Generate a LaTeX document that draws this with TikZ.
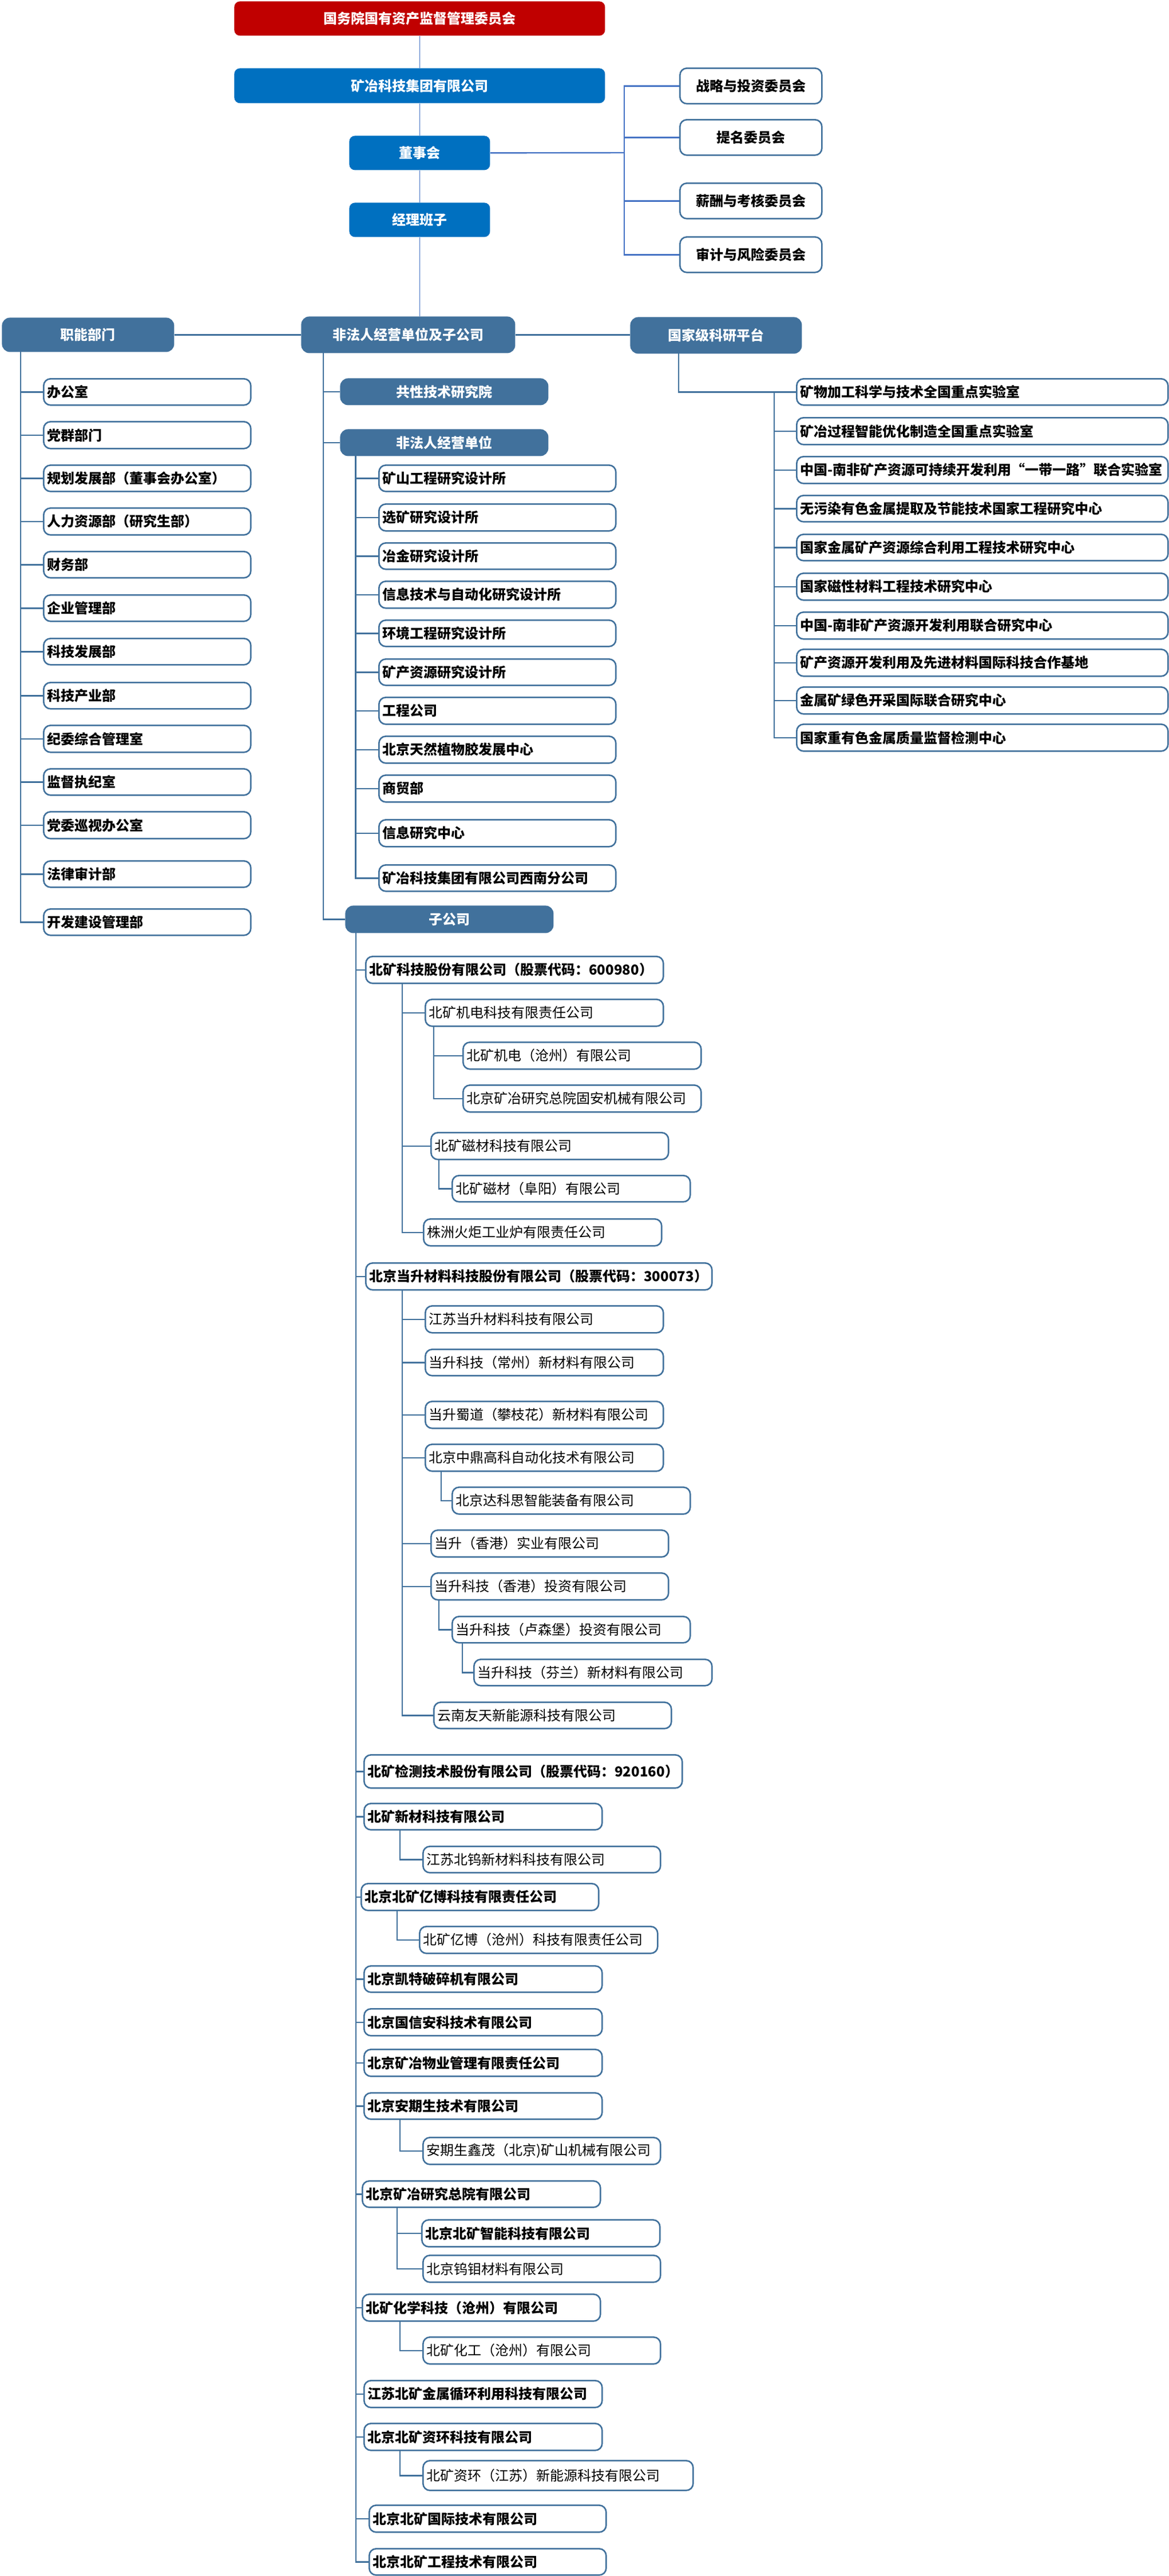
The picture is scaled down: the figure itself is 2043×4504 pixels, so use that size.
\documentclass[tikz,border=0pt]{standalone}
\usepackage{fontspec}
\setmainfont{Noto Sans CJK SC}
\definecolor{myred}{RGB}{192,0,0}
\definecolor{myblue}{RGB}{0,112,192}
\definecolor{hdrc}{RGB}{65,113,156}
\definecolor{bord}{RGB}{65,113,156}
\definecolor{lnc}{RGB}{65,113,156}
\definecolor{tlc}{RGB}{68,114,196}
\newcommand\bx[7]{%
  \pgfmathsetmacro\myW{(#5-#3)/2}%
  \pgfmathsetmacro\myH{(#6-#4)/2}%
  \pgfmathsetmacro\myT{(#5-#3)/2-6}%
  \node[#1, anchor=north west, minimum width=\myW pt, minimum height=\myH pt, text width=\myT pt] (#2) at (#3,#4) {#7};}
\tikzset{
  nbase/.style={rounded corners=6pt, inner xsep=3pt, inner ysep=0pt, font=\fontsize{12}{14}\selectfont},
  redbox/.style={nbase, fill=myred, text=white, font=\fontsize{12}{14}\selectfont\bfseries, align=center, rounded corners=5pt},
  topbox/.style={nbase, fill=myblue, text=white, font=\fontsize{12}{14}\selectfont\bfseries, align=center, rounded corners=5pt},
  hdr/.style={nbase, fill=hdrc, text=white, font=\fontsize{12}{14}\selectfont\bfseries, align=center, rounded corners=7pt},
  com/.style={nbase, draw=bord, line width=1.3pt, fill=white, font=\fontsize{12}{14}\selectfont\bfseries, align=center},
  bitem/.style={nbase, draw=bord, line width=1.3pt, fill=white, font=\fontsize{12}{14}\selectfont\bfseries, align=left},
  ritem/.style={nbase, draw=bord, line width=1.3pt, fill=white, align=left},
  conn/.style={draw=lnc, line width=1.3pt},
  tconn/.style={draw=tlc, line width=0.8pt},
  bconn/.style={draw=tlc, line width=1.2pt},
}
\begin{document}
\begin{tikzpicture}[x=0.5pt,y=-0.5pt]
\fill[white] (0,0) rectangle (2043,4504);
\useasboundingbox (0,0) rectangle (2043,4504);
% top
\bx{redbox}{sasac}{409}{2}{1057}{62}{国务院国有资产监督管理委员会}
\bx{topbox}{grp}{409}{119}{1057}{180}{矿冶科技集团有限公司}
\bx{topbox}{dsh}{610}{237}{856}{297}{董事会}
\bx{topbox}{jl}{610}{354}{856}{414}{经理班子}
\bx{com}{c1}{1187}{118}{1435}{180}{战略与投资委员会}
\bx{com}{c2}{1187}{208}{1435}{270}{提名委员会}
\bx{com}{c3}{1187}{319}{1435}{381}{薪酬与考核委员会}
\bx{com}{c4}{1187}{413}{1435}{475}{审计与风险委员会}
% level 2
\bx{hdr}{zn}{3}{555}{304}{615}{职能部门}
\bx{hdr}{fei}{526}{553}{900}{617}{非法人经营单位及子公司}
\bx{hdr}{gj}{1101}{554}{1401}{618}{国家级科研平台}
% left column
\bx{bitem}{l1}{75}{661}{437}{707}{办公室}
\bx{bitem}{l2}{75}{736}{437}{783}{党群部门}
\bx{bitem}{l3}{75}{812}{437}{858}{规划发展部（董事会办公室）}
\bx{bitem}{l4}{75}{887}{437}{934}{人力资源部（研究生部）}
\bx{bitem}{l5}{75}{963}{437}{1009}{财务部}
\bx{bitem}{l6}{75}{1039}{437}{1085}{企业管理部}
\bx{bitem}{l7}{75}{1115}{437}{1161}{科技发展部}
\bx{bitem}{l8}{75}{1192}{437}{1238}{科技产业部}
\bx{bitem}{l9}{75}{1267}{437}{1314}{纪委综合管理室}
\bx{bitem}{l10}{75}{1343}{437}{1389}{监督执纪室}
\bx{bitem}{l11}{75}{1418}{437}{1465}{党委巡视办公室}
\bx{bitem}{l12}{75}{1504}{437}{1550}{法律审计部}
\bx{bitem}{l13}{75}{1588}{437}{1634}{开发建设管理部}
% middle column
\bx{hdr}{gx}{594}{661}{958}{708}{共性技术研究院}
\bx{hdr}{fr}{594}{750}{958}{797}{非法人经营单位}
\bx{bitem}{m1}{661}{812}{1075}{858}{矿山工程研究设计所}
\bx{bitem}{m2}{661}{880}{1075}{927}{选矿研究设计所}
\bx{bitem}{m3}{661}{948}{1075}{994}{冶金研究设计所}
\bx{bitem}{m4}{661}{1015}{1075}{1062}{信息技术与自动化研究设计所}
\bx{bitem}{m5}{661}{1083}{1075}{1129}{环境工程研究设计所}
\bx{bitem}{m6}{661}{1151}{1075}{1197}{矿产资源研究设计所}
\bx{bitem}{m7}{661}{1218}{1075}{1265}{工程公司}
\bx{bitem}{m8}{661}{1286}{1075}{1333}{北京天然植物胶发展中心}
\bx{bitem}{m9}{661}{1354}{1075}{1401}{商贸部}
\bx{bitem}{m10}{661}{1432}{1075}{1479}{信息研究中心}
\bx{bitem}{m11}{661}{1511}{1075}{1557}{矿冶科技集团有限公司西南分公司}
\bx{hdr}{zgs}{603}{1583}{967}{1631}{子公司}
% right column
\bx{bitem}{r1}{1391}{661}{2040}{707}{矿物加工科学与技术全国重点实验室}
\bx{bitem}{r2}{1391}{729}{2040}{776}{矿冶过程智能优化制造全国重点实验室}
\bx{bitem}{r3}{1391}{797}{2040}{844}{中国-南非矿产资源可持续开发利用“一带一路”联合实验室}
\bx{bitem}{r4}{1391}{865}{2040}{911}{无污染有色金属提取及节能技术国家工程研究中心}
\bx{bitem}{r5}{1391}{933}{2040}{979}{国家金属矿产资源综合利用工程技术研究中心}
\bx{bitem}{r6}{1391}{1001}{2040}{1048}{国家磁性材料工程技术研究中心}
\bx{bitem}{r7}{1391}{1069}{2040}{1116}{中国-南非矿产资源开发利用联合研究中心}
\bx{bitem}{r8}{1391}{1134}{2040}{1181}{矿产资源开发利用及先进材料国际科技合作基地}
\bx{bitem}{r9}{1391}{1200}{2040}{1247}{金属矿绿色开采国际联合研究中心}
\bx{bitem}{r10}{1391}{1265}{2040}{1312}{国家重有色金属质量监督检测中心}
% subsidiaries
\bx{bitem}{s1}{638}{1671}{1158}{1718}{北矿科技股份有限公司（股票代码：600980）}
\bx{ritem}{s1a}{742}{1746}{1158}{1793}{北矿机电科技有限责任公司}
\bx{ritem}{s1a1}{808}{1821}{1224}{1868}{北矿机电（沧州）有限公司}
\bx{ritem}{s1a2}{808}{1896}{1224}{1943}{北京矿冶研究总院固安机械有限公司}
\bx{ritem}{s1b}{752}{1979}{1167}{2026}{北矿磁材科技有限公司}
\bx{ritem}{s1b1}{789}{2054}{1205}{2100}{北矿磁材（阜阳）有限公司}
\bx{ritem}{s1c}{739}{2130}{1155}{2177}{株洲火炬工业炉有限责任公司}
\bx{bitem}{s2}{638}{2207}{1243}{2254}{北京当升材料科技股份有限公司（股票代码：300073）}
\bx{ritem}{s2a}{742}{2282}{1158}{2329}{江苏当升材料科技有限公司}
\bx{ritem}{s2b}{742}{2358}{1158}{2404}{当升科技（常州）新材料有限公司}
\bx{ritem}{s2c}{742}{2449}{1158}{2496}{当升蜀道（攀枝花）新材料有限公司}
\bx{ritem}{s2d}{742}{2524}{1158}{2571}{北京中鼎高科自动化技术有限公司}
\bx{ritem}{s2d1}{789}{2599}{1205}{2646}{北京达科思智能装备有限公司}
\bx{ritem}{s2e}{752}{2674}{1167}{2721}{当升（香港）实业有限公司}
\bx{ritem}{s2f}{752}{2749}{1167}{2796}{当升科技（香港）投资有限公司}
\bx{ritem}{s2f1}{789}{2825}{1205}{2871}{当升科技（卢森堡）投资有限公司}
\bx{ritem}{s2f1a}{827}{2900}{1243}{2946}{当升科技（芬兰）新材料有限公司}
\bx{ritem}{s2g}{757}{2975}{1172}{3021}{云南友天新能源科技有限公司}
\bx{bitem}{s3}{635}{3067}{1191}{3125}{北矿检测技术股份有限公司（股票代码：920160）}
\bx{bitem}{s4}{635}{3152}{1051}{3198}{北矿新材科技有限公司}
\bx{ritem}{s4a}{738}{3227}{1153}{3273}{江苏北钨新材料科技有限公司}
\bx{bitem}{s5}{630}{3292}{1045}{3339}{北京北矿亿博科技有限责任公司}
\bx{ritem}{s5a}{732}{3367}{1148}{3414}{北矿亿博（沧州）科技有限责任公司}
\bx{bitem}{s6}{635}{3436}{1051}{3482}{北京凯特破碎机有限公司}
\bx{bitem}{s7}{635}{3511}{1051}{3558}{北京国信安科技术有限公司}
\bx{bitem}{s8}{635}{3582}{1051}{3629}{北京矿冶物业管理有限责任公司}
\bx{bitem}{s9}{635}{3658}{1051}{3704}{北京安期生技术有限公司}
\bx{ritem}{s9a}{738}{3736}{1153}{3783}{安期生鑫茂（北京)矿山机械有限公司}
\bx{bitem}{s10}{632}{3812}{1048}{3858}{北京矿冶研究总院有限公司}
\bx{bitem}{s10a}{736}{3880}{1152}{3927}{北京北矿智能科技有限公司}
\bx{ritem}{s10b}{738}{3942}{1153}{3989}{北京钨钼材料有限公司}
\bx{bitem}{s11}{632}{4010}{1048}{4057}{北矿化学科技（沧州）有限公司}
\bx{ritem}{s11a}{738}{4085}{1153}{4132}{北矿化工（沧州）有限公司}
\bx{bitem}{s12}{635}{4161}{1051}{4208}{江苏北矿金属循环利用科技有限公司}
\bx{bitem}{s13}{635}{4236}{1051}{4283}{北京北矿资环科技有限公司}
\bx{ritem}{s13a}{738}{4301}{1210}{4353}{北矿资环（江苏）新能源科技有限公司}
\bx{bitem}{s14}{644}{4379}{1058}{4426}{北京北矿国际技术有限公司}
\bx{bitem}{s15}{644}{4455}{1058}{4501}{北京北矿工程技术有限公司}
% ---------- connectors ----------
\draw[tconn] (sasac.south) -- (grp.north);
\draw[tconn] (grp.south) -- (dsh.north);
\draw[tconn] (dsh.south) -- (jl.north);
\draw[tconn] (jl.south) -- (jl.south |- fei.north);
\coordinate (br) at (1091,267);
\draw[bconn] (dsh.east) -- (br);
\foreach \c in {c1,c2,c3,c4} \draw[bconn] (br) |- (\c.west);
\draw[conn] (zn.east) -- (zn.east -| fei.west);
\draw[conn] (fei.east) -- (fei.east -| gj.west);
% left
\coordinate (lt) at (36,615);
\foreach \i in {1,...,13} \draw[conn] (lt) |- (l\i.west);
% middle
\coordinate (mt) at (565,617);
\foreach \n in {gx,fr,zgs} \draw[conn] (mt) |- (\n.west);
\coordinate (ft) at (621.5,797);
\foreach \i in {1,...,11} \draw[conn] (ft) |- (m\i.west);
% right
\coordinate (gjb) at (1186,618);
\draw[conn] (gjb) |- (r1.west);
\coordinate (rt) at (1353,684);
\foreach \i in {2,...,10} \draw[conn] (rt) |- (r\i.west);
% subsidiaries
\coordinate (st) at (622,1631);
\foreach \n in {s1,s2,s3,s4,s5,s6,s7,s8,s9,s10,s11,s12,s13,s14,s15} \draw[conn] (st) |- (\n.west);
\coordinate (s1t) at (703,1718);
\foreach \n in {s1a,s1b,s1c} \draw[conn] (s1t) |- (\n.west);
\coordinate (s1at) at (758,1793);
\foreach \n in {s1a1,s1a2} \draw[conn] (s1at) |- (\n.west);
\coordinate (s1bt) at (767,2026);
\draw[conn] (s1bt) |- (s1b1.west);
\coordinate (s2t) at (703,2254);
\foreach \n in {s2a,s2b,s2c,s2d,s2e,s2f,s2g} \draw[conn] (s2t) |- (\n.west);
\coordinate (s2dt) at (771,2571);
\draw[conn] (s2dt) |- (s2d1.west);
\coordinate (s2ft) at (767,2796);
\draw[conn] (s2ft) |- (s2f1.west);
\coordinate (s2f1t) at (808,2871);
\draw[conn] (s2f1t) |- (s2f1a.west);
\coordinate (s4t) at (699,3198);
\draw[conn] (s4t) |- (s4a.west);
\coordinate (s5t) at (694,3339);
\draw[conn] (s5t) |- (s5a.west);
\coordinate (s9t) at (699,3704);
\draw[conn] (s9t) |- (s9a.west);
\coordinate (s10t) at (694,3858);
\foreach \n in {s10a,s10b} \draw[conn] (s10t) |- (\n.west);
\coordinate (s11t) at (699,4057);
\draw[conn] (s11t) |- (s11a.west);
\coordinate (s13t) at (699,4283);
\draw[conn] (s13t) |- (s13a.west);
\end{tikzpicture}
\end{document}
